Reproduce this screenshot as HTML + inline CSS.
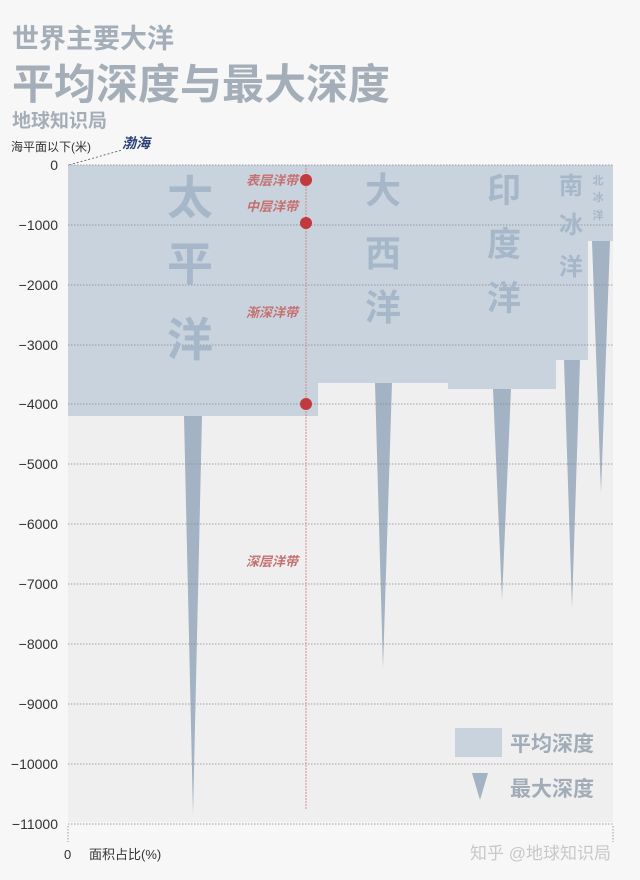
<!DOCTYPE html>
<html><head><meta charset="utf-8"><style>
body{margin:0;background:#f7f7f7;}
svg{display:block}
text{font-family:"Liberation Sans","Noto Sans CJK SC",sans-serif}
</style></head><body>
<svg width="640" height="880" viewBox="0 0 640 880" xmlns="http://www.w3.org/2000/svg">
<rect width="640" height="880" fill="#f7f7f7"/>
<text x="12" y="48" font-size="27" fill="#a4aeb8" font-weight="bold">世界主要大洋</text>
<text x="12" y="99" font-size="42" fill="#a4aeb8" font-weight="bold">平均深度与最大深度</text>
<text x="12" y="127" font-size="19" fill="#a4aeb8" font-weight="bold">地球知识局</text>
<text x="11" y="151" font-size="12" fill="#333">海平面以下(米)</text>
<text x="122" y="148" font-size="14" fill="#2a3f7a" font-style="italic" font-weight="bold">渤海</text>
<line x1="69" y1="165" x2="122" y2="150" stroke="#555" stroke-width="0.8" stroke-dasharray="2,2"/>
<rect x="68" y="165" width="545" height="657" fill="#efefef"/>
<g fill="#c9d3de">
<rect x="68" y="165" width="250" height="251"/>
<rect x="318" y="165" width="130" height="218"/>
<rect x="448" y="165" width="108" height="224"/>
<rect x="556" y="165" width="32" height="195"/>
<rect x="588" y="165" width="25" height="76"/>
</g>
<g fill="#a3b3c3">
<polygon points="184,416 202,416 193,815"/>
<polygon points="375,383 392,383 383,668"/>
<polygon points="493,389 511,389 502,600"/>
<polygon points="564,360 580,360 572,608"/>
<polygon points="592,241 610,241 601,493"/>
</g>
<g stroke="#888" stroke-width="0.8" stroke-dasharray="1.5,1.5">
<line x1="68" y1="165" x2="613" y2="165"/><line x1="68" y1="225" x2="613" y2="225"/><line x1="68" y1="285" x2="613" y2="285"/><line x1="68" y1="345" x2="613" y2="345"/><line x1="68" y1="404" x2="613" y2="404"/><line x1="68" y1="464" x2="613" y2="464"/><line x1="68" y1="524" x2="613" y2="524"/><line x1="68" y1="584" x2="613" y2="584"/><line x1="68" y1="644" x2="613" y2="644"/><line x1="68" y1="704" x2="613" y2="704"/><line x1="68" y1="764" x2="613" y2="764"/><line x1="68" y1="824" x2="613" y2="824"/>
<line x1="68" y1="826" x2="68" y2="842"/><line x1="613" y1="826" x2="613" y2="842"/>
</g>
<g font-size="14" fill="#333" text-anchor="end">
<text x="58" y="170">0</text><text x="58" y="230">−1000</text><text x="58" y="290">−2000</text><text x="58" y="350">−3000</text><text x="58" y="409">−4000</text><text x="58" y="469">−5000</text><text x="58" y="529">−6000</text><text x="58" y="589">−7000</text><text x="58" y="649">−8000</text><text x="58" y="709">−9000</text><text x="58" y="769">−10000</text><text x="58" y="829">−11000</text>
</g>
<text x="64" y="859" font-size="13" fill="#333">0</text>
<text x="89" y="859" font-size="13" fill="#333">面积占比(%)</text>
<line x1="306" y1="165" x2="306" y2="810" stroke="#c97a7a" stroke-width="0.8" stroke-dasharray="2,1"/>
<g fill="#c23a3e"><circle cx="306" cy="180" r="6"/><circle cx="306" cy="223" r="6"/><circle cx="306" cy="404" r="6"/></g>
<g font-size="13" fill="#c57070" font-style="italic" font-weight="bold" text-anchor="end">
<text x="298" y="185">表层洋带</text><text x="298" y="211">中层洋带</text><text x="298" y="317">渐深洋带</text><text x="298" y="566">深层洋带</text>
</g>
<g fill="#a5b7c8" text-anchor="middle" font-weight="bold">
<text x="190" y="214" font-size="46">太</text><text x="190" y="280" font-size="46">平</text><text x="190" y="356" font-size="46">洋</text>
<text x="383" y="203" font-size="36">大</text><text x="383" y="266" font-size="36">西</text><text x="383" y="320" font-size="36">洋</text>
<text x="504" y="202" font-size="34">印</text><text x="504" y="256" font-size="34">度</text><text x="504" y="310" font-size="34">洋</text>
<text x="571" y="194" font-size="24">南</text><text x="571" y="233" font-size="24">冰</text><text x="571" y="275" font-size="24">洋</text>
<text x="598" y="184" font-size="11">北</text><text x="598" y="201" font-size="11">冰</text><text x="598" y="219" font-size="11">洋</text>
</g>
<rect x="455" y="728" width="47" height="29" fill="#c9d3de"/>
<text x="510" y="751" font-size="21" fill="#a1acb7" font-weight="bold">平均深度</text>
<polygon points="472,773 488,773 480,800" fill="#a3b3c3"/>
<text x="510" y="796" font-size="21" fill="#a1acb7" font-weight="bold">最大深度</text>
<text x="470" y="859" font-size="17" fill="#c8c8c8">知乎 @地球知识局</text>
</svg>
</body></html>
